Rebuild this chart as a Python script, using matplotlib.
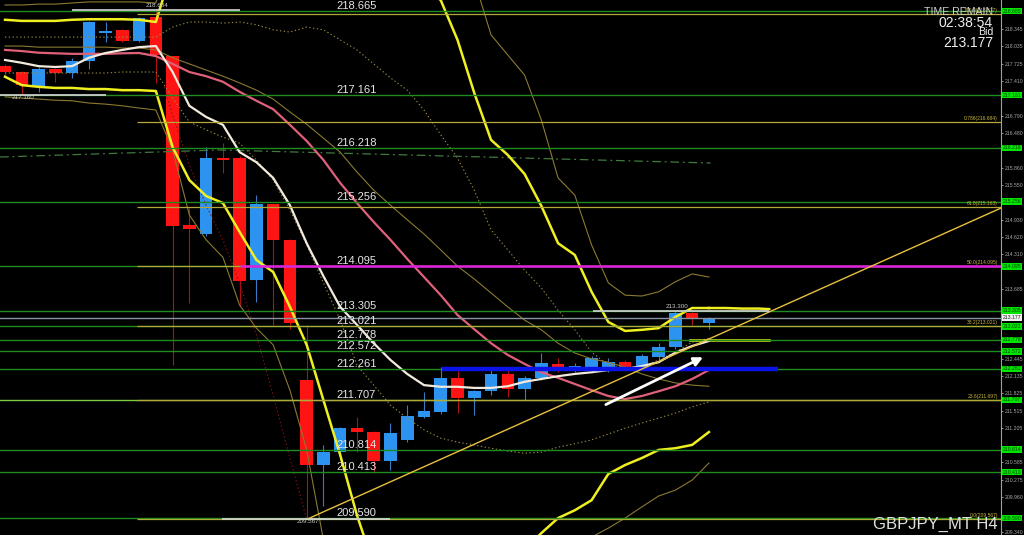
import matplotlib
matplotlib.use("Agg")
import matplotlib.pyplot as plt
from matplotlib.transforms import blended_transform_factory, offset_copy
import numpy as np

plt.rcParams['font.family'] = ['Liberation Sans', 'DejaVu Sans']

# ---------------- candles (GBPJPY H4) ----------------
opens = [217.68, 217.575, 217.31, 217.63, 217.56, 217.77, 218.27, 218.33, 218.13, 218.56,
         217.86, 214.84, 214.675, 216.04, 216.04, 213.85, 215.21, 214.57, 212.06, 210.54,
         210.77, 211.20, 211.13, 210.61, 210.99, 211.40, 211.49, 212.10, 211.74, 211.86,
         212.17, 211.90, 212.10, 212.35, 212.29, 212.29, 212.26, 212.38, 212.28, 212.47,
         212.65, 213.26, 213.08]
highs = [217.72, 217.60, 217.66, 217.65, 217.82, 218.49, 218.47, 218.35, 218.56, 218.684,
         217.87, 215.14, 216.23, 216.30, 216.07, 215.37, 215.22, 214.58, 213.05, 210.90,
         211.22, 211.40, 211.14, 211.29, 211.61, 211.85, 212.29, 212.29, 211.88, 212.24,
         212.28, 212.14, 212.545, 212.45, 212.36, 212.49, 212.45, 212.42, 212.52, 212.72,
         213.30, 213.28, 213.19]
lows = [217.50, 217.16, 217.22, 217.40, 217.47, 217.63, 218.11, 218.11, 218.11, 217.38,
        212.33, 213.44, 214.64, 215.77, 213.39, 213.46, 213.05, 212.98, 209.567, 209.81,
        210.63, 210.77, 210.40, 210.45, 210.96, 211.38, 211.45, 211.47, 211.43, 211.79,
        211.76, 211.70, 212.07, 212.20, 212.20, 212.25, 212.20, 212.24, 212.25, 212.44,
        212.62, 213.05, 212.97]
closes = [217.575, 217.34, 217.63, 217.56, 217.77, 218.47, 218.31, 218.13, 218.54, 217.88,
          214.82, 214.76, 216.04, 216.00, 213.83, 215.21, 214.57, 213.08, 210.54, 210.77,
          211.20, 211.13, 210.61, 211.11, 211.42, 211.51, 212.10, 211.74, 211.86, 212.17,
          211.90, 212.10, 212.37, 212.29, 212.31, 212.455, 212.38, 212.29, 212.49, 212.65,
          213.26, 213.15, 213.177]

# ---------------- indicator lines ----------------
ma_white = [217.79, 217.74, 217.68, 217.665, 217.68, 217.83, 217.915, 217.97, 218.02, 218.04,
            217.575, 216.97, 216.77, 216.63, 216.14, 215.96, 215.68, 215.19, 214.51, 213.92,
            213.37, 213.05, 212.72, 212.42, 212.17, 211.97, 211.94, 211.94, 211.92, 211.92,
            211.95, 212.03, 212.08, 212.13, 212.17, 212.20, 212.24, 212.26, 212.31, 212.38,
            212.55, 212.67, 212.76]
ma_pink = [217.97, 217.95, 217.92, 217.91, 217.90, 217.90, 217.90, 217.91, 217.915, 217.86,
           217.72, 217.575, 217.50, 217.40, 217.22, 217.06, 216.91, 216.63, 216.34, 216.00,
           215.59, 215.23, 214.89, 214.57, 214.23, 213.905, 213.58, 213.225, 212.97, 212.72,
           212.51, 212.35, 212.20, 212.10, 211.99, 211.88, 211.775, 211.72, 211.775, 211.86,
           211.95, 212.08, 212.24]
ma_olive = [218.04, 218.04, 218.02, 218.02, 218.02, 218.02, 218.02, 218.005, 218.005, 217.97,
            217.83, 217.72, 217.61, 217.50, 217.38, 217.25, 217.09, 216.86, 216.64, 216.39,
            216.14, 215.785, 215.46, 215.19, 214.93, 214.675, 214.39, 214.10, 213.87, 213.62,
            213.37, 213.135, 212.96, 212.72, 212.545, 212.44, 212.38, 212.29, 212.17, 212.08,
            212.01, 211.97, 211.95]
bb_upper = [218.51, 218.49, 218.49, 218.49, 218.51, 218.52, 218.52, 218.52, 218.51, 218.47,
            219.45, 219.76, 220.12, 220.39, 220.57, 220.65, 220.65, 220.65, 220.57, 220.48,
            220.39, 220.21, 219.94, 219.67, 219.40, 219.13, 218.86, 218.15, 217.20, 216.36,
            216.09, 215.75, 215.18, 214.51, 214.30, 213.64, 213.10, 212.94, 212.96, 212.99,
            213.19, 213.35, 213.35]
bb_upper_ext_x = [42, 43, 44, 45, 45.6]
bb_upper_ext = [213.35, 213.35, 213.34, 213.34, 213.33]
bb_lower = [217.49, 217.34, 217.31, 217.29, 217.29, 217.27, 217.27, 217.25, 217.25, 217.235,
            216.23, 215.64, 215.355, 215.23, 214.71, 214.21, 213.995, 213.37, 212.69, 211.70,
            210.72, 209.64, 208.75, 208.30, 207.94, 207.765, 207.675, 207.765, 207.94, 208.30,
            208.66, 209.02, 209.32, 209.59, 209.73, 209.91, 210.38, 210.54, 210.665, 210.81,
            210.84, 210.90, 211.13]
yellow_mid_x = [40.9, 45.6]
yellow_mid = [212.77, 212.77]
env_upper = [218.775, 218.775, 218.79, 218.79, 218.81, 218.83, 218.83, 218.83, 218.83, 218.81,
             220.0, 220.8, 221.3, 221.6, 221.8, 221.9, 221.9, 221.9, 221.8, 221.7,
             221.5, 221.3, 221.0, 220.7, 220.4, 220.1, 219.9, 219.58, 219.22, 218.24,
             217.88, 217.52, 216.72, 215.68, 215.37, 214.48, 213.80, 213.58, 213.565, 213.64,
             213.82, 213.96, 213.905]
env_lower = [217.13, 217.11, 217.09, 217.07, 217.06, 217.02, 217.00, 216.97, 216.93, 216.895,
             216.18, 215.015, 214.57, 214.26, 213.40, 212.99, 212.69, 211.88, 210.81, 209.20,
             208.12, 207.05, 206.33, 205.80, 205.44, 205.26, 205.26, 205.44, 205.975, 206.69,
             207.41, 208.21, 208.57, 208.84, 209.05, 209.25, 209.41, 209.59, 209.79, 209.985,
             210.09, 210.27, 210.575]
dot_upper = [218.20, 218.20, 218.20, 218.20, 218.20, 218.20, 218.20, 218.20, 218.20, 218.20,
             218.38, 218.47, 218.47, 218.45, 218.47, 218.42, 218.33, 218.29, 218.38, 218.33,
             218.15, 217.97, 217.72, 217.47, 217.25, 216.895, 216.45, 216.035, 215.46, 214.75,
             214.39, 214.03, 213.71, 213.31, 212.96, 212.56, 212.33, 212.28, 212.29, 212.42,
             212.56, 212.74, 212.81]
dot_lower = [217.557, 217.557, 217.557, 217.557, 217.557, 217.557, 217.557, 217.575, 217.575, 217.575,
             217.11, 216.68, 216.54, 216.41, 216.30, 216.00, 215.64, 215.105, 214.48, 213.80,
             213.135, 212.33, 211.97, 211.61, 211.38, 211.17, 211.02, 210.95, 210.90, 210.84,
             210.79, 210.75, 210.77, 210.86, 210.92, 210.99, 211.095, 211.20, 211.29, 211.38,
             211.47, 211.58, 211.67]
red_dot_x = [9.5, 10, 11, 12, 13, 14, 15, 16, 17, 18]
red_dot = [217.31, 216.805, 215.91, 215.19, 214.57, 213.80, 212.87, 211.79, 210.665, 209.57]
dashdot_x = [-0.3, 12.8, 42.1]
dashdot = [216.053, 216.179, 215.946]

# ---------------- horizontal objects ----------------
levels = [218.665, 217.161, 216.218, 215.256, 214.095, 213.305, 213.021,
          212.778, 212.572, 212.261, 211.707, 210.814, 210.413, 209.590]
level_labels = ["218.665", "217.161", "216.218", "215.256", "214.095", "213.305", "213.021",
                "212.778", "212.572", "212.261", "211.707", "210.814", "210.413", "209.590"]
fib_levels = [218.617, 216.684, 215.163, 214.095, 213.021, 211.697, 209.567]
fib_labels = ["100.0(218.617)", "0.786(216.684)", "61.8(215.163)", "50.0(214.095)",
              "38.2(213.021)", "23.6(211.697)", "0.0(209.567)"]
fib_start = 7.9
bid = 213.177
magenta_level = 214.095
magenta_start = 14.0
blue_level = 212.261
blue_span = [26.1, 46.1]
white_seg_level = [218.684, 217.160, 213.300, 209.567]
white_seg_start = [4.0, -0.3, 35.1, 12.95]
white_seg_end = [14.0, 6.0, 45.6, 23.0]
white_seg_text_x = [8.4, 0.42, 39.4, 17.4]
white_seg_text_above = [True, False, True, False]
trend_x = [18.0, 59.43]
trend_y = [209.567, 215.14]
arrow_from = (35.7, 211.60)
arrow_to = (41.8, 212.49)
axis_ticks = [218.345, 218.035, 217.725, 217.410, 217.100, 216.790, 216.480, 216.170, 215.860,
              215.550, 215.240, 214.930, 214.620, 214.310, 214.000, 213.685, 213.375, 213.065,
              212.755, 212.445, 212.135, 211.825, 211.515, 211.205, 210.895, 210.585, 210.275,
              209.960, 209.650, 209.340]

# ---------------- figure ----------------
fig = plt.figure(figsize=(10.24, 5.35), dpi=100, facecolor='black')
ax = fig.add_axes([0, 0, 1001 / 1024, 1])
ax.set_facecolor('black')
ax.set_xlim(-0.3, 59.43)
ax.set_ylim(209.287, 218.864)

n = len(opens)
idx = np.arange(n)
BLUE = '#2d93f0'
RED = '#ff1414'
for i in range(n):
    o, h, l, c = opens[i], highs[i], lows[i], closes[i]
    up = c >= o
    ax.vlines(i, l, h, color=('#3a78c8' if up else '#b01010'), lw=0.8, zorder=2)
    bottom = min(o, c)
    height = max(abs(c - o), 0.03)
    ax.bar(i, height, bottom=bottom, width=0.75, color=(BLUE if up else RED),
           edgecolor='none', zorder=2.1)

# indicators
ax.plot(idx, env_upper, color='#8a7a30', lw=0.8, zorder=3)
ax.plot(idx, env_lower, color='#8a7a30', lw=0.8, zorder=3)
ax.plot(idx, ma_olive, color='#8a7a30', lw=0.8, zorder=3)
ax.plot(idx, dot_upper, color='#9a8a40', lw=0.8, ls=(0, (1.2, 2.2)), zorder=3)
ax.plot(idx, dot_lower, color='#9a8a40', lw=0.8, ls=(0, (1.2, 2.2)), zorder=3)
ax.plot(red_dot_x, red_dot, color='#8a1212', lw=0.8, ls=(0, (1.2, 2.2)), zorder=3)
ax.plot(dashdot_x, dashdot, color='#3f7a3f', lw=0.9, ls=(0, (7, 3, 1.5, 3)), zorder=3)
ax.plot(idx, bb_upper, color='#f0f020', lw=1.8, zorder=3.2)
ax.plot(bb_upper_ext_x, bb_upper_ext, color='#f0f020', lw=1.8, zorder=3.2)
ax.plot(idx, bb_lower, color='#f0f020', lw=1.8, zorder=3.2)
ax.plot(yellow_mid_x, yellow_mid, color='#f0f020', lw=1.8, zorder=3.2)
ax.plot(idx, ma_pink, color='#e0607a', lw=1.6, zorder=3.3)
ax.plot(idx, ma_white, color='#f2eadc', lw=1.6, zorder=3.4)

# horizontal lines
for lv in levels:
    col = '#7ccc44' if abs(lv - 211.707) < 1e-6 else '#1e8c1e'
    ax.axhline(lv, color=col, lw=1.0, zorder=4)
for lv in fib_levels:
    ax.hlines(lv, fib_start, 59.43, color='#b4a838', lw=0.9, zorder=4.1)
ax.axhline(bid, color='#8894a0', lw=1.0, zorder=4.1)
ax.hlines(magenta_level, magenta_start, 59.43, color='#e020e0', lw=1.8, zorder=4.2)
ax.hlines(blue_level, blue_span[0], blue_span[1], color='#0a14e6', lw=3.2, zorder=4.3)
ax.plot(trend_x, trend_y, color='#e8c03c', lw=1.0, zorder=4.4)

tr_up = offset_copy(ax.transData, fig=fig, x=0, y=2, units='dots')
for lv, s0, s1, tx, above in zip(white_seg_level, white_seg_start, white_seg_end,
                                  white_seg_text_x, white_seg_text_above):
    ax.hlines(lv, s0, s1, color='#d8d8d8', lw=1.2, zorder=4.5)
    if above:
        ax.text(tx, lv, f"{lv:.3f}", transform=tr_up, fontsize=4.5, color='#c8c8c8',
                va='bottom', ha='left', zorder=6)
    else:
        ax.text(tx, lv, f"{lv:.3f}", fontsize=4.5, color='#c8c8c8',
                va='top', ha='left', zorder=6)

for lv, lab in zip(levels, level_labels):
    ax.text(19.8, lv, lab, transform=tr_up, fontsize=8, color='#e6e6e6',
            va='baseline', ha='left', zorder=6)

bt = blended_transform_factory(ax.transAxes, ax.transData)
bt_up = offset_copy(bt, fig=fig, x=0, y=1, units='dots')
for lv, lab in zip(fib_levels, fib_labels):
    ax.text(0.997, lv, lab, transform=bt_up, fontsize=3.6, color='#c8b840',
            va='bottom', ha='right', zorder=6)

ax.annotate('', xy=arrow_to, xytext=arrow_from,
            arrowprops=dict(arrowstyle='-|>', color='white', lw=2.0, mutation_scale=13),
            zorder=6)

# right price axis (labels hidden behind the level boxes are left out)
for sp in ['left', 'top', 'bottom']:
    ax.spines[sp].set_visible(False)
ax.spines['right'].set_color('#a0a0a0')
ax.spines['right'].set_linewidth(0.8)
ax.set_xticks([])
ax.yaxis.tick_right()
box_levels = levels + [bid]
shown_ticks = [t for t in axis_ticks if min(abs(t - b) for b in box_levels) > 0.11]
ax.set_yticks(shown_ticks)
ax.set_yticklabels([f"{t:.3f}" for t in shown_ticks])
ax.tick_params(axis='y', labelsize=3.7, colors='#a8a8a8', length=1.5, width=0.6, pad=1.0)

for lv in levels:
    ax.text(1.0015, lv, f"{lv:.3f}", transform=bt, fontsize=3.7, color='#004400',
            va='center', ha='left', zorder=7, clip_on=False,
            bbox=dict(boxstyle='square,pad=0.15', facecolor='#00e600', edgecolor='none'))
ax.text(1.0015, bid, f"{bid:.3f}", transform=bt, fontsize=3.7, color='#202020',
        va='center', ha='left', zorder=7, clip_on=False,
        bbox=dict(boxstyle='square,pad=0.15', facecolor='#f0f0f0', edgecolor='none'))

# info texts
W, H = 1024.0, 535.0
fig.text(993 / W, 1 - 7 / H, "TIME REMAIN", fontsize=7.6, color='#d0d0d0', ha='right', va='top')
fig.text(993 / W, 1 - 16 / H, "02:38:54", fontsize=10, color='#f0f0f0', ha='right', va='top')
fig.text(993 / W, 1 - 27 / H, "Bid", fontsize=7.6, color='#f0f0f0', ha='right', va='top')
fig.text(993 / W, 1 - 36 / H, "213.177", fontsize=10, color='#f0f0f0', ha='right', va='top')
fig.text(998 / W, 1 - 529 / H, "GBPJPY_MT H4", fontsize=12, color='#e0e0e0',
         ha='right', va='baseline')

fig.savefig('out.png', dpi=100, facecolor='black')
